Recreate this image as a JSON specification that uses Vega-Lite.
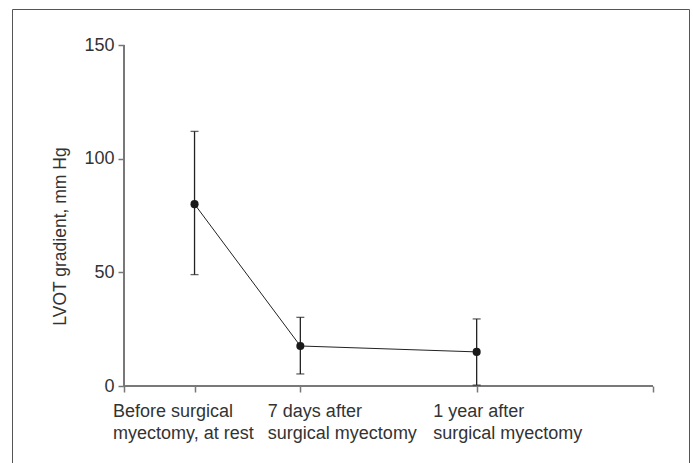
{
  "$schema": "https://vega.github.io/schema/vega-lite/v6.json",
  "autosize": "none",
  "padding": {"left": 12, "top": 9, "right": 4, "bottom": 0},
  "width": 677,
  "height": 454,
  "background": "white",
  "config": {
    "view": {"stroke": "#555", "strokeWidth": 1},
    "font": "Liberation Sans"
  },
  "data": {
    "values": [
      {"stage": "Before surgical myectomy, at rest", "t": 0.2, "mean": 80, "lo": 49, "hi": 112},
      {"stage": "7 days after surgical myectomy", "t": 0.5, "mean": 17.6, "lo": 5.3, "hi": 30.2},
      {"stage": "1 year after surgical myectomy", "t": 1.0, "mean": 15, "lo": 0.4, "hi": 29.5}
    ]
  },
  "layer": [
    {
      "mark": {"type": "line", "color": "#222", "strokeWidth": 1},
      "encoding": {
        "x": {
          "field": "t",
          "type": "quantitative",
          "title": null,
          "scale": {"domain": [-0.3176, 1.6021], "nice": false, "zero": false},
          "axis": {
            "orient": "bottom",
            "offset": -77,
            "domain": false,
            "grid": false,
            "values": [0, 0.2, 0.5, 1, 1.5],
            "tickSize": 6,
            "tickColor": "#777",
            "tickWidth": 1.5,
            "labelExpr": "datum.value == 0.2 ? ['Before surgical', 'myectomy, at rest'] : datum.value == 0.5 ? ['7 days after', 'surgical myectomy'] : datum.value == 1 ? ['1 year after', 'surgical myectomy'] : ''",
            "labelAlign": "left",
            "labelOffset": {
              "condition": [
                {"test": "datum.value == 0.2", "value": -82},
                {"test": "datum.value == 0.5", "value": -33}
              ],
              "value": -44
            },
            "labelFontSize": 18,
            "labelColor": "#333",
            "labelPadding": 10,
            "labelLineHeight": 22,
            "labelBaseline": "top",
            "labelFlush": false,
            "labelOverlap": false,
            "labelBound": false,
            "title": null
          }
        },
        "y": {
          "field": "mean",
          "type": "quantitative",
          "title": "LVOT gradient, mm Hg",
          "scale": {"domain": [-33.871, 165.836], "nice": false, "zero": false},
          "axis": {
            "orient": "left",
            "offset": -112,
            "domain": false,
            "grid": false,
            "values": [0, 50, 100, 150],
            "tickSize": 6,
            "tickColor": "#777",
            "tickWidth": 1.5,
            "labelFontSize": 18,
            "labelColor": "#333",
            "labelPadding": 4,
            "labelFlush": false,
            "labelOverlap": false,
            "labelBound": false,
            "title": "LVOT gradient, mm Hg",
            "titleFontSize": 17.5,
            "titleFontWeight": "normal",
            "titleColor": "#333",
            "titlePadding": 14
          }
        }
      }
    },
    {
      "mark": {"type": "rule", "color": "#777", "strokeWidth": 1.5},
      "encoding": {
        "x": {"datum": 0, "type": "quantitative", "title": null},
        "x2": {"datum": 1.5},
        "y": {"datum": 0, "type": "quantitative", "title": "LVOT gradient, mm Hg"}
      }
    },
    {
      "mark": {"type": "rule", "color": "#777", "strokeWidth": 1.5},
      "encoding": {
        "x": {"datum": 0, "type": "quantitative", "title": null},
        "y": {"datum": 0, "type": "quantitative", "title": "LVOT gradient, mm Hg"},
        "y2": {"datum": 150}
      }
    },
    {
      "mark": {
        "type": "errorbar",
        "ticks": {"size": 8, "color": "#222", "thickness": 1.3},
        "rule": {"color": "#222", "strokeWidth": 1.3}
      },
      "encoding": {
        "x": {"field": "t", "type": "quantitative", "title": null},
        "y": {"field": "lo", "type": "quantitative", "title": "LVOT gradient, mm Hg"},
        "y2": {"field": "hi"}
      }
    },
    {
      "mark": {"type": "point", "filled": true, "size": 65, "color": "#1a1a1a", "opacity": 1},
      "encoding": {
        "x": {"field": "t", "type": "quantitative", "title": null},
        "y": {"field": "mean", "type": "quantitative", "title": "LVOT gradient, mm Hg"}
      }
    }
  ]
}
